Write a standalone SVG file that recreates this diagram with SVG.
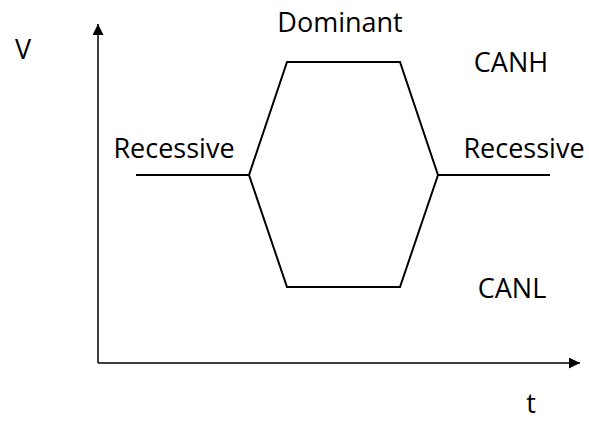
<svg xmlns="http://www.w3.org/2000/svg" width="589" height="421" viewBox="0 0 589 421">
<style>
text{font-family:"Open Sans","Liberation Sans",sans-serif;font-size:27px;fill:#000}
.ln{stroke:#000;stroke-width:2;fill:none}
.ax{stroke:#000;stroke-width:1.5;fill:none}
</style>
<defs>
<marker id="ah" viewBox="0 0 10 10" refX="10" refY="5" markerWidth="11" markerHeight="11" markerUnits="userSpaceOnUse" orient="auto">
<path d="M0,0 L10,5 L0,10 Z" fill="#000"/>
</marker>
</defs>
<g id="connectors">
<line class="ax" x1="98" y1="363" x2="98" y2="24" marker-end="url(#ah)"/>
<line class="ax" x1="98" y1="363" x2="580" y2="363" marker-end="url(#ah)"/>
</g>
<g id="canh">
<polyline class="ln" points="136,175 249,175 287,62 400,62 438,175 550,175"/>
</g>
<g id="canl">
<polyline class="ln" points="249,175 287,287 400,287 438,175"/>
</g>
<g id="labels">
<text x="23" y="59" text-anchor="middle">V</text>
<text x="340" y="32" text-anchor="middle">Dominant</text>
<text x="511" y="72" text-anchor="middle">CANH</text>
<text x="174" y="158" text-anchor="middle">Recessive</text>
<text x="524" y="158" text-anchor="middle">Recessive</text>
<text x="512" y="298" text-anchor="middle">CANL</text>
<text x="531" y="413" text-anchor="middle">t</text>
</g>
</svg>
